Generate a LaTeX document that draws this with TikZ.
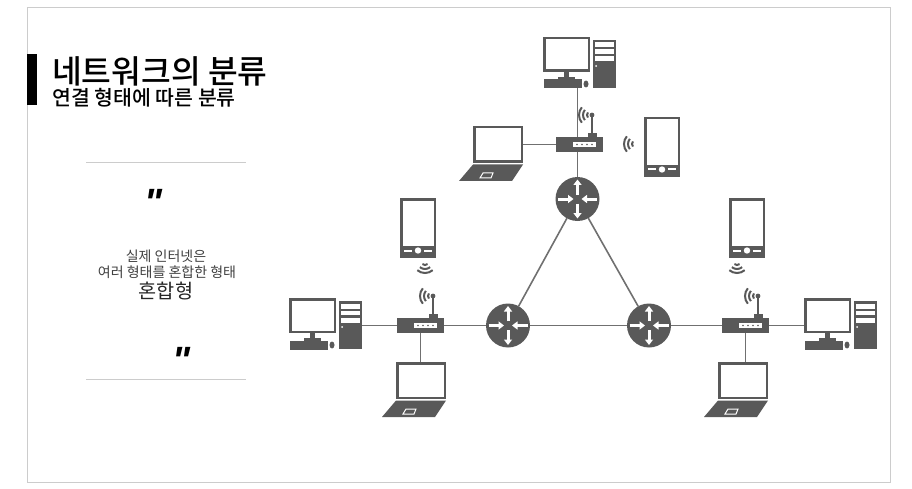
\documentclass[tikz,border=0pt]{standalone}
\usepackage{fontspec}
\setmainfont{Noto Sans CJK KR}
\newfontfamily\medfont{Noto Sans CJK KR Medium}
\newfontfamily\quotefont{Liberation Sans}
\usetikzlibrary{arrows.meta,backgrounds}

\definecolor{iconcol}{HTML}{595959}
\definecolor{linkcol}{HTML}{707070}
\definecolor{framecol}{HTML}{CCCCCC}

\tikzset{%
  iconbox/.style={
    fill=iconcol,
    inner sep=0pt,
    outer sep=0pt,
    anchor=north west
  },
  link/.style={
    draw=linkcol,
    line width=1.6pt
  },
  rule/.style={
    draw=framecol,
    line width=1pt
  },
  wifi/.pic={
    \foreach \r in {4,8,12}
      \draw [iconcol, line width=2pt] (140:\r) arc (140:220:\r);
  },
  pc/.pic={
    \node [iconbox, minimum width=47pt, minimum height=35pt] (-mon) at (0,0) {};
    \fill [white] (2.5,2.5) rectangle (44.5,32.5);
    \fill [iconcol] (21,35) rectangle (26,41);
    \fill [iconcol] (15,40) rectangle (32,42.5);
    \node [iconbox, minimum width=38pt, minimum height=9pt] (-kb) at (1,42.5) {};
    \fill [iconcol] (43,47) ellipse (2.5 and 3.5);
    \node [iconbox, minimum width=23pt, minimum height=48pt] (-tower) at (50,3) {};
    \foreach \y/\h in {5.5/5,12.5/4.5,19.5/5}
      \fill [white] (52,\y) rectangle ++(19,\h);
    \fill [white] (53,29) circle (1);
  },
  laptop/.pic={
    \node [iconbox, minimum width=50pt, minimum height=37pt] (-scr) at (0,0) {};
    \fill [white] (2.5,2.5) rectangle (47.5,34.5);
    \fill [iconcol] (0,38.5) -- (50,38.5) -- (39,55) -- (-14,55) -- cycle;
    \draw [white, line width=1pt] (10,47) -- (20,47) -- (18,52) -- (7,52) -- cycle;
  },
  phone/.pic={
    \node [iconbox, minimum width=36pt, minimum height=60pt] (-body) at (0,0) {};
    \fill [white] (2.5,2.5) rectangle (33.5,48);
    \fill [white] (18,52.5) circle (3.2);
    \fill [white] (4,51.5) rectangle (12,53.5);
    \fill [white] (24,51.5) rectangle (32,53.5);
  },
  hub/.pic={
    \node [iconbox, minimum width=47pt, minimum height=15pt] (-body) at (0,0) {};
    \fill [white] (17,5) rectangle (40,10);
    \foreach \x in {21,26,31,36}
      \fill [iconcol] (\x,7.5) circle (0.8);
    \fill [iconcol] (32,-4) rectangle (41,0);
    \draw [iconcol, line width=2.2pt] (36,-2) -- (36,-21);
    \fill [iconcol] (36,-22) circle (2.4);
    \pic at (35,-22) {wifi};
  },
  router/.pic={
    \node [circle, fill=iconcol, inner sep=0pt, outer sep=0pt, minimum size=44pt] (-body) at (0,0) {};
    \foreach \a/\b/\c/\d in {0/-4.5/0/-19.5, 0/4.5/0/19.5, -19.5/0/-4/0, 19.5/0/4/0}
      \draw [white, line width=3pt, -{Triangle[width=8pt,length=5.5pt]}] (\a,\b) -- (\c,\d);
  }
}

\begin{document}
\begin{tikzpicture}[x=1pt, y=-1pt]
\useasboundingbox (0,0) rectangle (912,489);

\draw [rule] (27,8) rectangle (890,482);
\fill [black] (27,54) rectangle (37,105);

\node [anchor=west, inner sep=0pt, font=\medfont\fontsize{32.3}{33}\selectfont] (title) at (52,71) {네트워크의 분류};
\node [anchor=west, inner sep=0pt, font=\medfont\fontsize{20.5}{21}\selectfont] (subtitle) at (52,98) {연결 형태에 따른 분류};

\draw [rule] (86,163) -- (246,163);
\draw [rule] (86,379) -- (246,379);

\foreach \x/\y [count=\i] in {154/215, 182/373}
  \node [anchor=base, inner sep=0pt, font=\quotefont\bfseries\itshape\fontsize{38}{38}\selectfont] (quote-\i) at (\x,\y) {"};

\node [inner sep=0pt, text=black!75, font=\fontsize{14}{14}\selectfont] (line-1) at (166,256) {실제 인터넷은};
\node [inner sep=0pt, text=black!75, font=\fontsize{14}{14}\selectfont] (line-2) at (167,272) {여러 형태를 혼합한 형태};
\node [inner sep=0pt, text=black!85, font=\fontsize{19.7}{20}\selectfont] (line-3) at (166,291) {혼합형};

\foreach \n/\x/\y in {top/577.5/199, left/508/325.5, right/649/325.5}
  \pic (\n-router) at (\x,\y) {router};

\foreach \n/\x/\y in {top/556/137, left/397/318, right/722/318}
  \pic (\n-hub) at (\x,\y) {hub};

\foreach \n/\x/\y in {top/543/37, left/289/298, right/804/298}
  \pic (\n-pc) at (\x,\y) {pc};

\foreach \n/\x/\y in {top/473/126, left/396/362, right/718/362}
  \pic (\n-laptop) at (\x,\y) {laptop};

\foreach \n/\x/\y in {top/644/117, left/400/198, right/729/198}
  \pic (\n-phone) at (\x,\y) {phone};

\pic at (636,144) {wifi};
\pic [rotate=90] at (425,261) {wifi};
\pic [rotate=90] at (737,261) {wifi};

\begin{scope}[on background layer]
\draw [link] (top-hub-body.north -| top-router-body.north) -- (top-router-body.north |- top-pc-kb.south);
\draw [link] (top-hub-body.south -| top-router-body.north) -- (top-router-body.north);
\draw [link] (top-hub-body.west) -- (top-hub-body.west -| top-laptop-scr.east);
\draw [link] (left-hub-body.west) -- (left-hub-body.west -| left-pc-tower.east);
\draw [link] (left-hub-body.east) -- (left-router-body.west);
\draw [link] (left-hub-body.south) -- (left-hub-body.south |- left-laptop-scr.north);
\draw [link] (right-hub-body.east) -- (right-hub-body.east -| right-pc-mon.west);
\draw [link] (right-hub-body.west) -- (right-router-body.east);
\draw [link] (right-hub-body.south) -- (right-hub-body.south |- right-laptop-scr.north);
\draw [link] (left-router-body) -- (right-router-body);
\draw [link] (left-router-body) -- (top-router-body);
\draw [link] (right-router-body) -- (top-router-body);
\end{scope}

\end{tikzpicture}
\end{document}
